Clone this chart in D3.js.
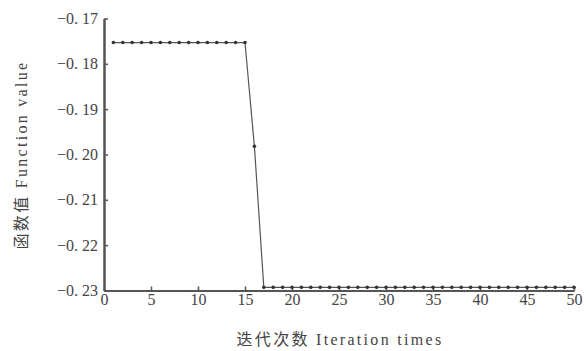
<!DOCTYPE html>
<html><head><meta charset="utf-8">
<script src="https://cdn.jsdelivr.net/npm/d3@7"></script>
<style>body{margin:0;background:#fff;} svg{display:block;}</style>
</head><body>
<svg id="c" width="586" height="351"></svg>
<script>
// Data
const iterations = d3.range(1, 51);
const valuesStart = Array(15).fill(-0.1753);
const valuesDrop = [-0.1982];
const valuesEnd = Array(34).fill(-0.2293);
const values = valuesStart.concat(valuesDrop, valuesEnd);
const xTicks = [0, 5, 10, 15, 20, 25, 30, 35, 40, 45, 50];
const yTicks = [-0.17, -0.18, -0.19, -0.20, -0.21, -0.22, -0.23];
const yTickLabels = ["−0. 17", "−0. 18", "−0. 19", "−0. 20", "−0. 21", "−0. 22", "−0. 23"];
const xTitle = "迭代次数 Iteration times";
const yTitle = "函数值 Function value";

const svg = d3.select("#c");
const x = d3.scaleLinear().domain([0, 50]).range([104, 574]);
const y = d3.scaleLinear().domain([-0.23, -0.17]).range([290.5, 18.5]);
const font = "'Liberation Serif', 'Noto Sans CJK SC', serif";

// axes
const xAxis = svg.append("g").attr("transform", `translate(0,${y(-0.23)})`)
  .call(d3.axisBottom(x).tickValues(xTicks).tickSizeInner(-4).tickSizeOuter(0).tickPadding(2));
xAxis.select(".domain").attr("stroke", "#555").attr("stroke-width", 2);
xAxis.selectAll(".tick line").attr("stroke", "#555").attr("stroke-width", 1.5);
xAxis.selectAll("text").attr("font-family", font).attr("font-size", 16).attr("fill", "#444").attr("dy", "0.8em");

const yAxis = svg.append("g").attr("transform", `translate(${x(0)},0)`)
  .call(d3.axisLeft(y).tickValues(yTicks).tickFormat((d, i) => yTickLabels[i]).tickSizeInner(-4).tickSizeOuter(0).tickPadding(6));
yAxis.select(".domain").attr("stroke", "#555").attr("stroke-width", 2.5);
yAxis.selectAll(".tick line").attr("stroke", "#555").attr("stroke-width", 1.5);
yAxis.selectAll("text").attr("font-family", font).attr("font-size", 16).attr("fill", "#444");

// line
const line = d3.line().x((d, i) => x(iterations[i])).y(d => y(d));
svg.append("path").datum(values).attr("d", line).attr("fill", "none")
  .attr("stroke", "#555").attr("stroke-width", 1.2);
svg.append("g").selectAll("circle").data(values).join("circle")
  .attr("cx", (d, i) => x(iterations[i])).attr("cy", d => y(d))
  .attr("r", 1.8).attr("fill", "#333");

// titles
svg.append("text").attr("x", 340).attr("y", 345).attr("text-anchor", "middle")
  .attr("font-family", font).attr("font-size", 16).attr("letter-spacing", 2.3)
  .attr("fill", "#444").text(xTitle);
svg.append("text").attr("transform", "translate(27,155) rotate(-90)").attr("text-anchor", "middle")
  .attr("font-family", font).attr("font-size", 16).attr("letter-spacing", 2.3)
  .attr("fill", "#444").text(yTitle);
</script>
</body></html>
